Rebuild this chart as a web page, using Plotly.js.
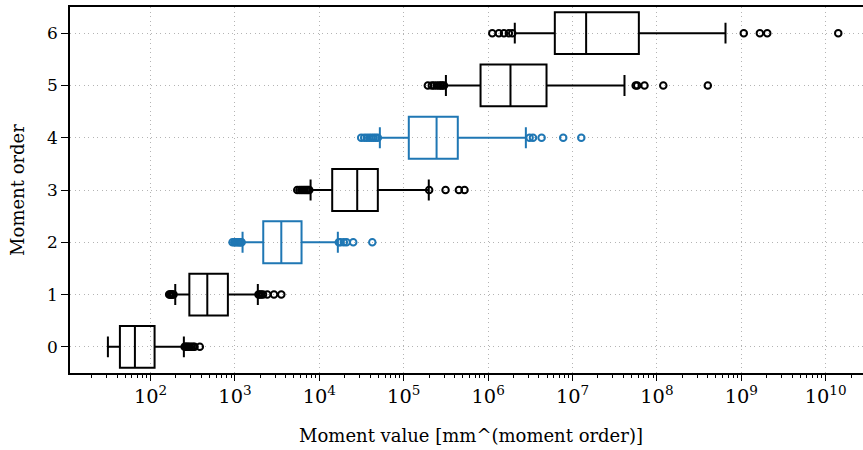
<!DOCTYPE html>
<html>
<head>
<meta charset="utf-8">
<script src="https://cdn.plot.ly/plotly-3.0.1.min.js"></script>
<style>
html, body { margin: 0; padding: 0; background: #fff; }
body { width: 863px; height: 450px; overflow: hidden; }
#chart { width: 872px; height: 450px; }
</style>
</head>
<body>
<div id="chart"></div>
<script>
// Moment orders (categories on y axis)
const orders = [0, 1, 2, 3, 4, 5, 6];
// Box statistics per moment order
const lowerWhisker = [31.2, 196, 1230, 7870, 52100, 316000, 2.07e6];
const q1Values     = [43.3, 288, 2163, 14200, 114800, 813000, 6.17e6];
const medians      = [65.2, 470, 3540, 28100, 245000, 1.84e6, 1.45e7];
const q3Values     = [111.5, 824, 6150, 49300, 437000, 4.92e6, 6.11e7];
const upperWhisker = [248, 1866, 16560, 198000, 2.80e6, 4.13e7, 6.50e8];
// Outliers per moment order
const outliers0 = [253, 262, 270, 280, 292, 305, 320, 332, 383];
const outliers1 = [166, 170, 174, 178, 182, 187, 1900, 1960, 2050, 2150, 2415, 2900, 3540];
const outliers2 = [935, 980, 1020, 1060, 1100, 1140, 1165, 1200, 17000, 17800, 19500, 21000, 25200, 42400];
const outliers3 = [5470, 5800, 6100, 6400, 6700, 7000, 7300, 7600, 200000, 313000, 450000, 525000];
const outliers4 = [31300, 34000, 36500, 39000, 41500, 44000, 46500, 49300, 3.1e6, 3.4e6, 4.3e6, 7.76e6, 1.27e7];
const outliers5 = [193000, 215000, 228000, 245000, 261000, 275000, 286000, 300000, 5.6e7, 5.85e7, 7.13e7, 1.19e8, 4.01e8];
const outliers6 = [1.12e6, 1.34e6, 1.54e6, 1.76e6, 1.93e6, 1.07e9, 1.66e9, 2.03e9, 1.41e10];
const outlierSets = [outliers0, outliers1, outliers2, outliers3, outliers4, outliers5, outliers6];
// Tick labels
const yTickLabels = ['0', '1', '2', '3', '4', '5', '6'];
const boxColors = ['#000000', '#000000', '#1f77b4', '#000000', '#1f77b4', '#000000', '#000000'];

const traces = [];
orders.forEach((o, i) => {
  traces.push({
    type: 'box',
    orientation: 'h',
    y: [o],
    q1: [q1Values[i]],
    median: [medians[i]],
    q3: [q3Values[i]],
    lowerfence: [lowerWhisker[i]],
    upperfence: [upperWhisker[i]],
    width: 0.8,
    whiskerwidth: 0.5,
    fillcolor: 'rgba(0,0,0,0)',
    line: { color: boxColors[i], width: 2 },
    boxpoints: false,
    hoverinfo: 'skip',
    showlegend: false
  });
  traces.push({
    type: 'scatter',
    mode: 'markers',
    x: outlierSets[i],
    y: outlierSets[i].map(() => o),
    marker: { symbol: 'circle-open', size: 6.5, color: boxColors[i], line: { width: 2, color: boxColors[i] } },
    hoverinfo: 'skip',
    showlegend: false,
    cliponaxis: false
  });
});

const FONT = "'DejaVu Serif', 'Liberation Serif', serif";
const GRID = { showgrid: true, gridcolor: '#b4b4b4', gridwidth: 1.2, griddash: '1.2px,3.3px' };
const layout = {
  width: 872,
  height: 450,
  margin: { l: 70, r: 0, t: 7, b: 77 },
  paper_bgcolor: '#ffffff',
  plot_bgcolor: '#ffffff',
  boxmode: 'overlay',
  font: { family: FONT, color: '#000', size: 17 },
  xaxis: Object.assign({
    type: 'log',
    range: [1.045, 10.549],
    dtick: 1,
    exponentformat: 'power',
    showexponent: 'all',
    showline: true, linecolor: '#000', linewidth: 1.5, mirror: true,
    ticks: 'outside', ticklen: 6, tickwidth: 1.3, tickcolor: '#000',
    tickfont: { family: FONT, size: 15.5, color: '#000' },
    minor: { ticks: 'outside', ticklen: 3.5, tickwidth: 1, tickcolor: '#000', showgrid: false },
    zeroline: false,
    title: { text: 'Moment value [mm^(moment order)]', font: { family: FONT, size: 18, color: '#000' }, standoff: 22 },
    automargin: false
  }, GRID),
  yaxis: Object.assign({
    range: [-0.5, 6.5],
    tickvals: orders,
    ticktext: yTickLabels,
    showline: true, linecolor: '#000', linewidth: 1.5, mirror: true,
    ticks: 'outside', ticklen: 7, tickwidth: 1.3, tickcolor: '#000',
    tickfont: { family: FONT, size: 17, color: '#000' },
    zeroline: false,
    title: { text: 'Moment order', font: { family: FONT, size: 18, color: '#000' }, standoff: 18 },
    automargin: false
  }, GRID)
};

Plotly.newPlot('chart', traces, layout, { displayModeBar: false });
</script>
</body>
</html>
